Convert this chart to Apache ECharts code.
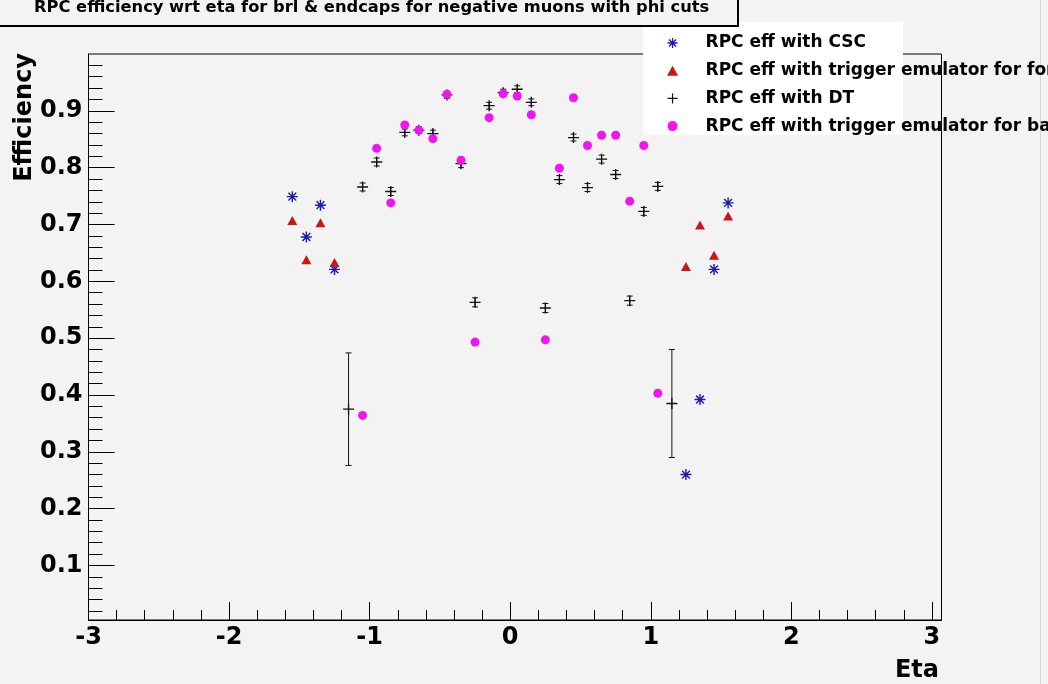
<!DOCTYPE html>
<html>
<head>
<meta charset="utf-8">
<script src="https://cdn.jsdelivr.net/npm/echarts@6/dist/echarts.min.js"></script>
<style>
  html, body { margin: 0; padding: 0; background: #f3f3f3; }
  #chart { width: 1048px; height: 684px; }
</style>
</head>
<body>
<div id="chart"></div>
<script>
// ---- chart data ----
const titleText = 'RPC efficiency wrt eta for brl & endcaps for negative muons with phi cuts';
const seriesNames = [
  'RPC eff with CSC',
  'RPC eff with trigger emulator for forward',
  'RPC eff with DT',
  'RPC eff with trigger emulator for barrel'
];

// endcap bins (CSC and forward trigger emulator)
const cscEta = [-1.55, -1.45, -1.35, -1.25, 1.25, 1.35, 1.45, 1.55];
const cscEff = [0.749, 0.678, 0.734, 0.621, 0.260, 0.392, 0.621, 0.738];
const fwdEta = [-1.55, -1.45, -1.35, -1.25, 1.25, 1.35, 1.45, 1.55];
const fwdEff = [0.707, 0.638, 0.703, 0.633, 0.626, 0.699, 0.646, 0.715];

// barrel bins (DT with errors, barrel trigger emulator)
const dtEta = [-1.15, -1.05, -0.95, -0.85, -0.75, -0.65, -0.55, -0.45, -0.35, -0.25, -0.15, -0.05,
                0.05, 0.15, 0.25, 0.35, 0.45, 0.55, 0.65, 0.75, 0.85, 0.95, 1.05, 1.15];
const dtEff = [0.375, 0.766, 0.810, 0.758, 0.862, 0.866, 0.860, 0.928, 0.807, 0.563, 0.909, 0.932,
               0.938, 0.915, 0.553, 0.779, 0.853, 0.765, 0.815, 0.788, 0.566, 0.723, 0.767, 0.385];
const dtErr = [0.099, 0.007, 0.007, 0.007, 0.006, 0.006, 0.006, 0.006, 0.007, 0.008, 0.006, 0.006,
               0.006, 0.006, 0.008, 0.007, 0.006, 0.007, 0.007, 0.007, 0.008, 0.007, 0.007, 0.095];
const brlEta = [-1.05, -0.95, -0.85, -0.75, -0.65, -0.55, -0.45, -0.35, -0.25, -0.15, -0.05,
                 0.05, 0.15, 0.25, 0.35, 0.45, 0.55, 0.65, 0.75, 0.85, 0.95, 1.05];
const brlEff = [0.364, 0.834, 0.738, 0.875, 0.866, 0.851, 0.929, 0.813, 0.493, 0.888, 0.930,
                0.926, 0.893, 0.497, 0.799, 0.923, 0.839, 0.857, 0.857, 0.741, 0.839, 0.403];

// axis ticks
const xTickLabels = [-3, -2, -1, 0, 1, 2, 3];
const yTickLabels = [0.1, 0.2, 0.3, 0.4, 0.5, 0.6, 0.7, 0.8, 0.9];
const xRange = [-3, 3.068];
const yRange = [0.004, 1.0];

// minor ticks: 5 divisions between labelled ticks
const xMinor = [];
for (let i = -15; i <= 15; i++) if (i % 5 !== 0) xMinor.push(i / 5);
const yMinor = [];
for (let i = 1; i < 50; i++) if (i % 5 !== 0) yMinor.push(i / 50);

// ---- marker shapes ----
const starPath = 'path://M-5,-0.65L5,-0.65L5,0.65L-5,0.65Z' +
  'M-0.65,-5L0.65,-5L0.65,5L-0.65,5Z' +
  'M-3.076,-3.996L3.996,3.076L3.076,3.996L-3.996,-3.076Z' +
  'M-3.996,3.076L3.076,-3.996L3.996,-3.076L-3.076,3.996Z';
const plusPath = 'path://M-5,-0.6L5,-0.6L5,0.6L-5,0.6Z M-0.6,-5L0.6,-5L0.6,5L-0.6,5Z';
const trianglePath = 'path://M0,0L5,9L-5,9Z';

const zip = (a, b) => a.map((v, i) => [v, b[i]]);
const FONT = 'DejaVu Sans';
const INK = '#000';

const tickFont = { fontFamily: FONT, fontWeight: 'bold', fontSize: 24, color: INK };

function xAxisDef(values, len, showLabel) {
  return {
    type: 'value', min: xRange[0], max: xRange[1], gridIndex: 0, position: 'bottom',
    axisLine: { show: showLabel, onZero: false, lineStyle: { color: INK, width: 1 } },
    axisTick: { show: true, inside: true, length: len, customValues: values,
                lineStyle: { color: INK, width: 1 } },
    axisLabel: showLabel ? Object.assign({ show: true, margin: 6, customValues: xTickLabels,
                formatter: v => String(Math.round(v)) }, tickFont) : { show: false },
    splitLine: { show: false }
  };
}
function yAxisDef(values, len, showLabel) {
  return {
    type: 'value', min: yRange[0], max: yRange[1], gridIndex: 0, position: 'left',
    axisLine: { show: showLabel, onZero: false, lineStyle: { color: INK, width: 1 } },
    axisTick: { show: true, inside: true, length: len, customValues: values,
                lineStyle: { color: INK, width: 1 } },
    axisLabel: showLabel ? Object.assign({ show: true, margin: 6, customValues: yTickLabels,
                formatter: v => v.toFixed(1) }, tickFont) : { show: false },
    splitLine: { show: false }
  };
}

const chart = echarts.init(document.getElementById('chart'), null, { renderer: 'canvas' });

chart.setOption({
  backgroundColor: '#f3f3f3',
  animation: false,
  grid: {
    left: 88.5, right: 106.5, top: 54, bottom: 64,
    show: true, borderColor: INK, borderWidth: 1, backgroundColor: 'transparent'
  },
  xAxis: [
    xAxisDef(xTickLabels, 18, true),
    xAxisDef(xMinor, 10, false)
  ],
  yAxis: [
    yAxisDef(yTickLabels, 26, true),
    yAxisDef(yMinor, 14, false)
  ],
  legend: {
    orient: 'vertical', left: 662, top: 29,
    itemWidth: 56, itemHeight: 10, itemGap: 9.7,
    selectedMode: false, z: 6, symbolKeepAspect: true,
    textStyle: { fontFamily: FONT, fontWeight: 'bold', fontSize: 17, lineHeight: 18, color: INK },
    data: [
      { name: seriesNames[0], icon: starPath },
      { name: seriesNames[1], icon: trianglePath },
      { name: seriesNames[2], icon: plusPath },
      { name: seriesNames[3], icon: 'circle' }
    ]
  },
  graphic: [
    // title pave
    { type: 'rect', z: 5, shape: { x: -2, y: -2, width: 740, height: 28 },
      style: { fill: '#f3f3f3', stroke: INK, lineWidth: 2 } },
    { type: 'text', z: 6, x: 34, y: 8,
      style: { text: titleText, fontFamily: FONT, fontWeight: 'bold', fontSize: 16.3,
               fill: INK, align: 'left', verticalAlign: 'middle' } },
    // legend pave
    { type: 'rect', z: 4, shape: { x: 643, y: 22, width: 260, height: 113 },
      style: { fill: '#ffffff' } },
    // axis titles
    { type: 'text', z: 6, x: 25, y: 53, rotation: Math.PI / 2,
      style: { text: 'Efficiency', fontFamily: FONT, fontWeight: 'bold', fontSize: 24,
               fill: INK, align: 'right', verticalAlign: 'middle' } },
    { type: 'text', z: 6, x: 939, y: 671,
      style: { text: 'Eta', fontFamily: FONT, fontWeight: 'bold', fontSize: 24,
               fill: INK, align: 'right', verticalAlign: 'middle' } },
    // canvas edge
    { type: 'rect', z: 1, shape: { x: 1040, y: 0, width: 1, height: 684 },
      style: { fill: '#d6d6d6' } }
  ],
  series: [
    {
      name: seriesNames[0], type: 'scatter', symbol: starPath, symbolSize: 11,
      symbolKeepAspect: true, itemStyle: { color: '#1c1cb4', opacity: 1 },
      data: zip(cscEta, cscEff), z: 3
    },
    {
      name: seriesNames[1], type: 'scatter', symbol: trianglePath, symbolSize: 10,
      symbolKeepAspect: true, itemStyle: { color: '#cc1515', opacity: 1 },
      data: zip(fwdEta, fwdEff), z: 3
    },
    {
      // vertical error bars with caps for the DT points
      type: 'custom', z: 3, silent: true,
      data: dtEta.map((v, i) => [v, dtEff[i], dtErr[i]]),
      renderItem(params, api) {
        const x = api.value(0), y = api.value(1), e = api.value(2);
        const top = api.coord([x, y + e]);
        const bot = api.coord([x, y - e]);
        const cw = 3;
        const st = { stroke: '#111', lineWidth: 1 };
        return {
          type: 'group', children: [
            { type: 'line', shape: { x1: top[0], y1: top[1], x2: bot[0], y2: bot[1] }, style: st },
            { type: 'line', shape: { x1: top[0] - cw, y1: top[1], x2: top[0] + cw, y2: top[1] }, style: st },
            { type: 'line', shape: { x1: bot[0] - cw, y1: bot[1], x2: bot[0] + cw, y2: bot[1] }, style: st }
          ]
        };
      }
    },
    {
      name: seriesNames[2], type: 'scatter', symbol: plusPath, symbolSize: 11,
      symbolKeepAspect: true, itemStyle: { color: '#111111', opacity: 1 },
      data: zip(dtEta, dtEff), z: 3
    },
    {
      name: seriesNames[3], type: 'scatter', symbol: 'circle', symbolSize: 9,
      itemStyle: { color: '#f014f0', opacity: 1 },
      data: zip(brlEta, brlEff), z: 3
    }
  ]
});
</script>
</body>
</html>
